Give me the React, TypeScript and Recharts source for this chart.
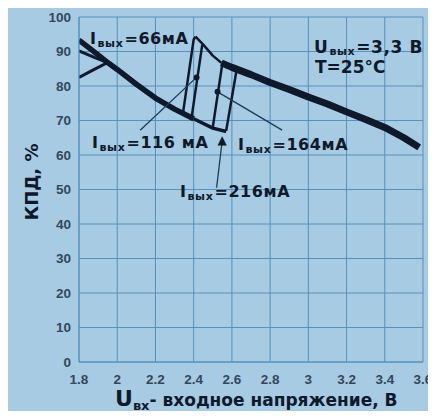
import React from "react";
import {
    LineChart, Line, XAxis, YAxis, CartesianGrid, ReferenceLine, ReferenceDot
} from "recharts";

const BG = '#a7cbe2';
const GRID = '#5690bd';
const INK = '#0e1a2b';
const TICK = '#34475a';
const FONT = '"DejaVu Sans", Arial, sans-serif';
const TICK_FONT = '"Liberation Sans", Arial, sans-serif';

const X_TICKS = [1.8, 2, 2.2, 2.4, 2.6, 2.8, 3, 3.2, 3.4, 3.6];
const Y_TICKS = [0, 10, 20, 30, 40, 50, 60, 70, 80, 90, 100];

// lower (dropout) branch, common for all loads
const lowerMainU = [1.8, 1.9, 1.95, 2.0, 2.1, 2.2, 2.3, 2.4];
const lowerMainEff = [93.3, 89, 86.8, 84.8, 80.5, 76.5, 73.3, 70.5];
const lowerTailU = [2.4, 2.5, 2.57];
const lowerTailEff = [70.5, 67.8, 66.8];

// left start of the heavier loads
const branchAU = [1.8, 1.88, 1.95];
const branchAEff = [90.2, 88.3, 86.8];
const branchBU = [1.8, 1.88, 1.95];
const branchBEff = [82.5, 84.8, 86.8];

// upper (regulation) branch
const upperThinU = [2.41, 2.45, 2.5, 2.545];
const upperThinEff = [94.3, 92, 88.8, 86.7];
const upperU = [2.545, 2.6, 2.7, 2.8, 2.9, 3.0, 3.1, 3.2, 3.3, 3.4, 3.5, 3.58];
const upperEff = [86.7, 85.4, 83.3, 81, 79, 76.8, 74.8, 72.5, 70.3, 68, 65, 62.2];

// jumps from dropout to regulation, one per load current
const jump66U = [2.345, 2.4, 2.41];
const jump66Eff = [72.5, 93.5, 94.3];
const jump116U = [2.39, 2.445];
const jump116Eff = [71.2, 92];
const jump164U = [2.5, 2.55];
const jump164Eff = [68, 86.5];
const jump216U = [2.57, 2.625];
const jump216Eff = [67, 84.8];

const pts = (u: number[], e: number[]) => u.map((x, i) => ({ x, y: e[i] }));

const SERIES = [
    { id: 'lowerMain', data: pts(lowerMainU, lowerMainEff), w: 5.5 },
    { id: 'lowerTail', data: pts(lowerTailU, lowerTailEff), w: 3.5 },
    { id: 'branchA', data: pts(branchAU, branchAEff), w: 3 },
    { id: 'branchB', data: pts(branchBU, branchBEff), w: 3 },
    { id: 'upperThin', data: pts(upperThinU, upperThinEff), w: 2.5 },
    { id: 'upper', data: pts(upperU, upperEff), w: 7 },
    { id: 'j66', data: pts(jump66U, jump66Eff), w: 2.5 },
    { id: 'j116', data: pts(jump116U, jump116Eff), w: 2.5 },
    { id: 'j164', data: pts(jump164U, jump164Eff), w: 2.5 },
    { id: 'j216', data: pts(jump216U, jump216Eff), w: 2.5 },
];

function Sub({ main, sub, rest, size, subSize, x, y, drop = 3 }: any) {
    return (
        <text x={x} y={y} fontFamily={FONT} fontWeight="bold" fill={INK} fontSize={size} letterSpacing={0.6}>
            {main}
            <tspan fontSize={subSize} dx={1} dy={drop}>{sub}</tspan>
            <tspan dx={1} dy={-drop}>{rest}</tspan>
        </text>
    );
}

const tickStyle = { fill: TICK, fontSize: 13.5, fontWeight: 'bold', fontFamily: TICK_FONT };

export default function App() {
    return (
        <div style={{ position: 'relative', width: 428, height: 411, marginBottom: -8, background: BG }}>
            <LineChart width={428} height={411} margin={{ top: 9, right: 13, left: 0, bottom: 0 }}>
                <CartesianGrid stroke={GRID} strokeWidth={1} />
                <XAxis
                    type="number" dataKey="x" domain={[1.8, 3.6]} ticks={X_TICKS} interval={0}
                    height={57} tickLine={false} axisLine={{ stroke: GRID }} tickMargin={6}
                    tick={tickStyle} allowDataOverflow
                />
                <YAxis
                    type="number" domain={[0, 100]} ticks={Y_TICKS} interval={0}
                    width={71} tickLine={false} axisLine={{ stroke: GRID }}
                    tick={tickStyle}
                />
                {SERIES.map(s => (
                    <Line key={s.id} data={s.data} dataKey="y" type="linear" stroke={INK}
                        strokeWidth={s.w} dot={false} isAnimationActive={false} strokeLinejoin="round" />
                ))}
                <ReferenceLine segment={[{ x: 2.12, y: 67.2 }, { x: 2.415, y: 82.5 }]} stroke="#1d3b57" strokeWidth={1.3} />
                <ReferenceLine segment={[{ x: 2.525, y: 78.3 }, { x: 2.863, y: 67.2 }]} stroke="#1d3b57" strokeWidth={1.3} />
                <ReferenceLine segment={[{ x: 2.52, y: 50.5 }, { x: 2.55, y: 64.5 }]} stroke="#1d3b57" strokeWidth={1.3} />
                <ReferenceDot x={2.415} y={82.5} r={3} fill={INK} stroke="none" />
                <ReferenceDot x={2.525} y={78.3} r={3} fill={INK} stroke="none" />
            </LineChart>
            <svg width={428} height={411} style={{ position: 'absolute', left: 0, top: 0, pointerEvents: 'none' }}>
                <Sub x={82} y={36} main="I" sub="вых" rest="=66мА" size={16} subSize={11} />
                <Sub x={84} y={140} main="I" sub="вых" rest="=116 мА" size={16} subSize={11} />
                <text x={214} y={136} fontSize={12} fill={INK} textAnchor="middle" fontFamily={FONT}>▲</text>
                <Sub x={230} y={142} main="I" sub="вых" rest="=164мА" size={16} subSize={11} />
                <Sub x={172} y={189} main="I" sub="вых" rest="=216мА" size={16} subSize={11} />
                <Sub x={306} y={45} main="U" sub="вых" rest="=3,3 В" size={17} subSize={11} drop={2} />
                <text x={307} y={65} fontFamily={FONT} fontWeight="bold" fill={INK} fontSize={17}>T=25°C</text>
                <text transform="translate(30,174) rotate(-90)" textAnchor="middle" fontFamily={FONT}
                    fontWeight="bold" fill={INK} fontSize={18}>КПД, %</text>
                <text x={107} y={398} fontFamily={FONT} fontWeight="bold" fill={INK} fontSize={17}>
                    <tspan fontSize={22}>U</tspan>
                    <tspan fontSize={13} dy={4}>вх</tspan>
                    <tspan dy={-4}>- входное напряжение, В</tspan>
                </text>
            </svg>
        </div>
    );
}
